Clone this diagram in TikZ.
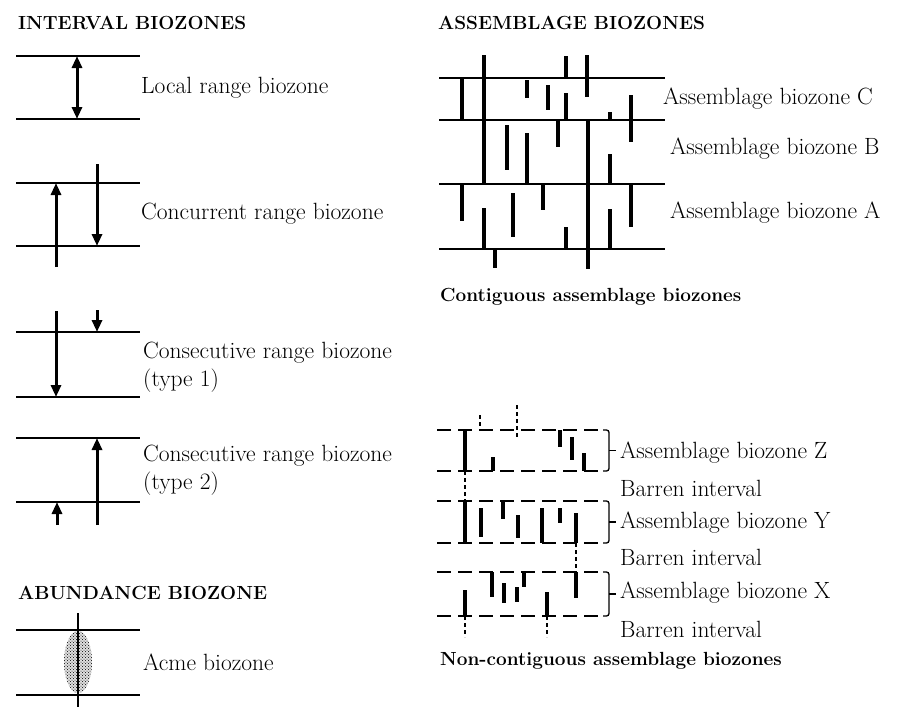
\documentclass[tikz,border=0pt]{standalone}
\usepackage{tikz}
\usetikzlibrary{arrows.meta, positioning, patterns}
\newcommand{\lblfont}{\fontsize{23.5}{28}\selectfont}
\newcommand{\headfont}{\fontsize{19}{23}\selectfont\bfseries}
\tikzset{
    zline/.style={line width=1.6pt},
    bar/.style={line width=3.2pt},
    dbar/.style={line width=2.8pt, dash pattern=on 4pt off 3pt},
    dzone/.style={line width=1.6pt, dash pattern=on 14pt off 7pt},
    rangearrow/.style={line width=3pt, -{Triangle[length=12pt,width=10pt]}},
    bothways/.style={line width=3pt, {Triangle[length=12pt,width=10pt]}-{Triangle[length=12pt,width=10pt]}},
    bracket/.style={line width=1.3pt, rounded corners=2.5pt},
    lbl/.style={font=\lblfont, anchor=west, inner sep=0pt},
    head/.style={font=\headfont, anchor=west, inner sep=0pt}
}
\begin{document}
\begin{tikzpicture}[x=1pt, y=-1pt]
    \useasboundingbox (0,0) rectangle (899,707);

    % interval biozones
    \node[head] (intTitle) at (18,23) {INTERVAL BIOZONES};

    \draw[zline] (16,56) -- (140,56);
    \draw[zline] (16,119) -- (140,119);
    \draw[bothways] (77,56) -- (77,119);
    \node[lbl] (localLbl) at (141,88) {Local range biozone};

    \draw[zline] (16,183) -- (140,183);
    \draw[zline] (16,246) -- (140,246);
    \draw[rangearrow] (56,267) -- (56,183);
    \draw[rangearrow] (97,164) -- (97,246);
    \node[lbl] (concLbl) at (141,214) {Concurrent range biozone};

    \draw[zline] (16,332) -- (140,332);
    \draw[zline] (16,397) -- (140,397);
    \draw[rangearrow] (56,311) -- (56,397);
    \draw[rangearrow] (97,310) -- (97,332);
    \node[lbl] (consOneLbl) at (143,353) {Consecutive range biozone};
    \node[lbl] (typeOneLbl) at (143,381) {(type 1)};

    \draw[zline] (16,438) -- (140,438);
    \draw[zline] (16,502) -- (140,502);
    \draw[rangearrow] (97,525) -- (97,438);
    \draw[rangearrow] (57,525) -- (57,502);
    \node[lbl] (consTwoLbl) at (143,456) {Consecutive range biozone};
    \node[lbl] (typeTwoLbl) at (143,484) {(type 2)};

    % abundance biozone
    \node[head] (abTitle) at (18,593) {ABUNDANCE BIOZONE};
    \fill[gray!25] (78,662) ellipse (14 and 31);
    \fill[pattern=crosshatch dots] (78,662) ellipse (14 and 31);
    \draw[zline] (16,630) -- (140,630);
    \draw[zline] (16,695) -- (140,695);
    \draw[line width=2pt] (78,613) -- (78,707);
    \node[lbl] (acmeLbl) at (143,662) {Acme biozone};

    % contiguous assemblage biozones
    \node[head] (asTitle) at (438,23) {ASSEMBLAGE BIOZONES};
    \foreach \y in {78,120,184,249}
        \draw[zline] (439,\y) -- (665,\y);
    \foreach \x/\ya/\yb in {462/78/120, 484/55/184, 527/80/98, 548/85/110,
        566/56/78, 566/93/120, 587/55/97, 588/120/269, 610/112/120, 631/95/142,
        507/125/170, 527/133/184, 558/120/147, 610/154/184,
        462/184/221, 484/208/249, 513/193/237, 543/184/210, 566/227/249,
        610/209/249, 631/184/227, 495/249/268}
        \draw[bar] (\x,\ya) -- (\x,\yb);
    \node[lbl] (cLbl) at (663,99) {Assemblage biozone C};
    \node[lbl] (bLbl) at (670,149) {Assemblage biozone B};
    \node[lbl] (aLbl) at (670,213) {Assemblage biozone A};
    \node[head] (contTitle) at (440,297) {Contiguous assemblage biozones};

    % non-contiguous assemblage biozones
    \foreach \y in {430,471,501,543,572,616}
        \draw[dzone] (437,\y) -- (600,\y);
    \foreach \x/\ya/\yb in {465/430/471, 493/457/471, 560/430/447, 572/437/460, 584/453/471,
        465/501/543, 481/508/537, 503/501/519, 518/515/538, 542/508/543, 560/508/523, 576/513/543,
        492/572/597, 504/583/603, 517/587/602, 524/572/587, 576/572/598, 465/590/616, 547/592/616}
        \draw[bar] (\x,\ya) -- (\x,\yb);
    \foreach \x/\ya/\yb in {480/415/430, 517/405/437, 465/471/501, 576/543/572, 465/616/637, 547/616/637}
        \draw[dbar] (\x,\ya) -- (\x,\yb);
    \foreach \ya/\yb in {430/471, 501/543, 572/616} {
        \draw[bracket] (603,\ya) -- (609,\ya) -- (609,\yb) -- (603,\yb);
        \draw[line width=1.3pt] (609,{(\ya+\yb)/2}) -- (616,{(\ya+\yb)/2});
    }
    \node[lbl] (zLbl) at (620,453) {Assemblage biozone Z};
    \node[lbl] (barOneLbl) at (620,488) {Barren interval};
    \node[lbl] (yLbl) at (620,523) {Assemblage biozone Y};
    \node[lbl] (barTwoLbl) at (620,557) {Barren interval};
    \node[lbl] (xLbl) at (620,593) {Assemblage biozone X};
    \node[lbl] (barThreeLbl) at (620,629) {Barren interval};
    \node[head] (nonTitle) at (440,661) {Non-contiguous assemblage biozones};
\end{tikzpicture}
\end{document}
